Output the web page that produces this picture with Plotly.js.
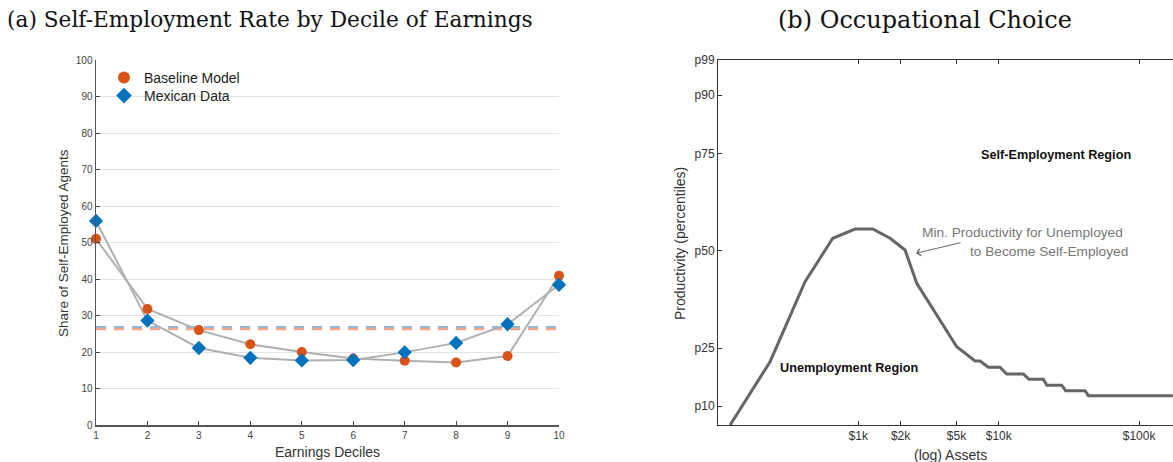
<!DOCTYPE html>
<html>
<head>
<meta charset="utf-8">
<script src="https://cdn.plot.ly/plotly-3.0.1.min.js"></script>
<style>
  html, body { margin: 0; padding: 0; background: #fff; overflow: hidden; }
  #chart { width: 1173px; height: 462px; }
</style>
</head>
<body>
<div id="chart"></div>
<script>
// ---------- Panel (a) data ----------
const deciles = [1, 2, 3, 4, 5, 6, 7, 8, 9, 10];
const baselineModel = [51.0, 31.8, 26.0, 22.1, 20.0, 18.2, 17.6, 17.1, 18.9, 40.9];
const mexicanData = [55.9, 28.6, 21.1, 18.4, 17.7, 17.8, 19.9, 22.5, 27.6, 38.4];
const baselineAvg = 26.3;
const mexicanAvg = 26.8;
const shareTicks = [0, 10, 20, 30, 40, 50, 60, 70, 80, 90, 100];

// ---------- Panel (b) data ----------
// assets (US$) along the threshold curve and productivity index (percentile scale position)
const thresholdAssets = [122, 235, 417, 657, 947, 1266, 1682, 2151, 2606, 5020, 6780, 7360, 8430, 10200, 11400, 14960, 16400, 20800, 22000, 28100, 30000, 41200, 43500, 174000];
const thresholdProd = [0, 63.3, 143.3, 186.7, 196, 196, 186.7, 175, 141.7, 78.3, 64, 64, 57.7, 57.7, 51, 51, 45.7, 45.7, 39.7, 39.7, 34.3, 34.3, 29.3, 29.3];
const prodTickVals = [19, 77, 174.3, 271.3, 330, 365];
const prodTickText = ['p10', 'p25', 'p50', 'p75', 'p90', 'p99'];
const assetTickVals = [1000, 2000, 5000, 10000, 100000];
const assetTickText = ['$1k', '$2k', '$5k', '$10k', '$100k'];

const W = 1173, H = 462;
const px = v => v / W;
const py = v => (H - v) / H;

const orange = '#D95319';
const blue = '#0072BD';
const sans = 'Liberation Sans, Arial, sans-serif';
const serif = 'DejaVu Serif, serif';

const traces = [
  // dashed averages
  { x: [deciles[0], deciles[deciles.length - 1]], y: [mexicanAvg, mexicanAvg], mode: 'lines',
    line: { color: '#8cb8e0', width: 2.5, dash: '10px,8px' }, showlegend: false, hoverinfo: 'skip', xaxis: 'x', yaxis: 'y' },
  { x: [deciles[0], deciles[deciles.length - 1]], y: [baselineAvg, baselineAvg], mode: 'lines',
    line: { color: '#f0a68a', width: 2.5, dash: '10px,8px' }, showlegend: false, hoverinfo: 'skip', xaxis: 'x', yaxis: 'y' },
  // gray connecting lines
  { x: deciles, y: baselineModel, mode: 'lines', line: { color: '#b0b0b0', width: 2 },
    showlegend: false, hoverinfo: 'skip', xaxis: 'x', yaxis: 'y' },
  { x: deciles, y: mexicanData, mode: 'lines', line: { color: '#b0b0b0', width: 2 },
    showlegend: false, hoverinfo: 'skip', xaxis: 'x', yaxis: 'y' },
  // markers
  { x: deciles, y: baselineModel, mode: 'markers', name: 'Baseline Model', legend: 'legend',
    marker: { color: orange, size: 10, symbol: 'circle' }, cliponaxis: false, xaxis: 'x', yaxis: 'y' },
  { x: deciles, y: mexicanData, mode: 'markers', name: 'Mexican Data', legend: 'legend2',
    marker: { color: blue, size: 11, symbol: 'diamond' }, cliponaxis: false, xaxis: 'x', yaxis: 'y' },
  // panel b curve
  { x: thresholdAssets, y: thresholdProd, mode: 'lines', line: { color: '#666666', width: 3 },
    showlegend: false, xaxis: 'x2', yaxis: 'y2' }
];

const ydom = [py(425), py(60)];
const legendBase = {
  xanchor: 'left', yanchor: 'middle', bgcolor: 'rgba(0,0,0,0)',
  font: { size: 14, color: '#222', family: sans }, itemwidth: 30, itemsizing: 'constant'
};

const layout = {
  width: W, height: H,
  margin: { l: 0, r: 0, t: 0, b: 0 },
  paper_bgcolor: '#fff', plot_bgcolor: '#fff',
  font: { family: sans, color: '#333' },
  showlegend: true,
  legend: Object.assign({}, legendBase, { x: px(104), y: py(78) }),
  legend2: Object.assign({}, legendBase, { x: px(104), y: py(96) }),
  xaxis: {
    domain: [px(96), px(559)], range: [1, 10], tickvals: deciles,
    ticks: 'inside', ticklen: 4, tickcolor: '#444', showgrid: false, zeroline: false,
    showline: true, linecolor: '#555', linewidth: 1.5,
    tickfont: { size: 10, color: '#444' }, anchor: 'y'
  },
  yaxis: {
    domain: ydom, range: [0, 100], tickvals: shareTicks,
    ticks: 'inside', ticklen: 4, tickcolor: '#444', showgrid: true, gridcolor: '#e4e4e4', gridwidth: 1,
    zeroline: false, showline: true, linecolor: '#555', linewidth: 1.5,
    tickfont: { size: 10, color: '#444' }, anchor: 'x'
  },
  xaxis2: {
    domain: [px(718), 1], type: 'log', range: [2, 3 + (1173 - 858.3) / 140.4],
    tickvals: assetTickVals, ticktext: assetTickText,
    ticks: 'inside', ticklen: 4, tickcolor: '#333', showgrid: false, zeroline: false,
    showline: true, linecolor: '#333', linewidth: 1, mirror: 'ticks',
    tickfont: { size: 12, color: '#333' }, anchor: 'y2'
  },
  yaxis2: {
    domain: ydom, range: [0, 365], tickvals: prodTickVals, ticktext: prodTickText,
    ticks: 'inside', ticklen: 4, tickcolor: '#333', showgrid: false, zeroline: false,
    showline: true, linecolor: '#333', linewidth: 1,
    tickfont: { size: 12, color: '#333' }, anchor: 'x2'
  },
  annotations: [
    // panel titles
    { text: '(a) Self-Employment Rate by Decile of Earnings', xref: 'paper', yref: 'paper',
      x: px(270), y: py(20), xanchor: 'center', yanchor: 'middle', showarrow: false,
      font: { family: serif, size: 21.7, color: '#111' } },
    { text: '(b) Occupational Choice', xref: 'paper', yref: 'paper',
      x: px(925), y: py(20), xanchor: 'center', yanchor: 'middle', showarrow: false,
      font: { family: serif, size: 24, color: '#111' } },
    // axis titles
    { text: 'Share of Self-Employed Agents', xref: 'paper', yref: 'paper',
      x: px(63), y: py(243), xanchor: 'center', yanchor: 'middle', textangle: -90, showarrow: false,
      font: { size: 13.5, color: '#333' } },
    { text: 'Earnings Deciles', xref: 'paper', yref: 'paper',
      x: px(327), y: py(452), xanchor: 'center', yanchor: 'middle', showarrow: false,
      font: { size: 14, color: '#333' } },
    { text: 'Productivity (percentiles)', xref: 'paper', yref: 'paper',
      x: px(680), y: py(244), xanchor: 'center', yanchor: 'middle', textangle: -90, showarrow: false,
      font: { size: 14, color: '#333' } },
    { text: '(log) Assets', xref: 'paper', yref: 'paper',
      x: px(950), y: py(455), xanchor: 'center', yanchor: 'middle', showarrow: false,
      font: { size: 14, color: '#333' } },
    // region labels
    { text: '<b>Self-Employment Region</b>', xref: 'x2', yref: 'y2',
      x: 4.407, y: 270, xanchor: 'center', yanchor: 'middle', showarrow: false,
      font: { size: 12.7, color: '#111' } },
    { text: '<b>Unemployment Region</b>', xref: 'x2', yref: 'y2',
      x: 2.930, y: 57.3, xanchor: 'center', yanchor: 'middle', showarrow: false,
      font: { size: 12.7, color: '#111' } },
    { text: 'Min. Productivity for Unemployed', xref: 'x2', yref: 'y2',
      x: 3.4395, y: 192.3, xanchor: 'left', yanchor: 'middle', showarrow: false,
      font: { size: 13.7, color: '#777' } },
    { text: 'to Become Self-Employed', xref: 'x2', yref: 'y2',
      x: 3.781, y: 174, xanchor: 'left', yanchor: 'middle', showarrow: false,
      font: { size: 13.7, color: '#777' } },
    { text: '', xref: 'x2', yref: 'y2', x: 3.411, y: 171.7,
      showarrow: true, ax: 46, ay: -11, arrowhead: 4, arrowsize: 1.3, arrowwidth: 1,
      arrowcolor: '#666', standoff: 0, startstandoff: 0 }
  ]
};

Plotly.newPlot('chart', traces, layout, { displayModeBar: false, staticPlot: true });
</script>
</body>
</html>
